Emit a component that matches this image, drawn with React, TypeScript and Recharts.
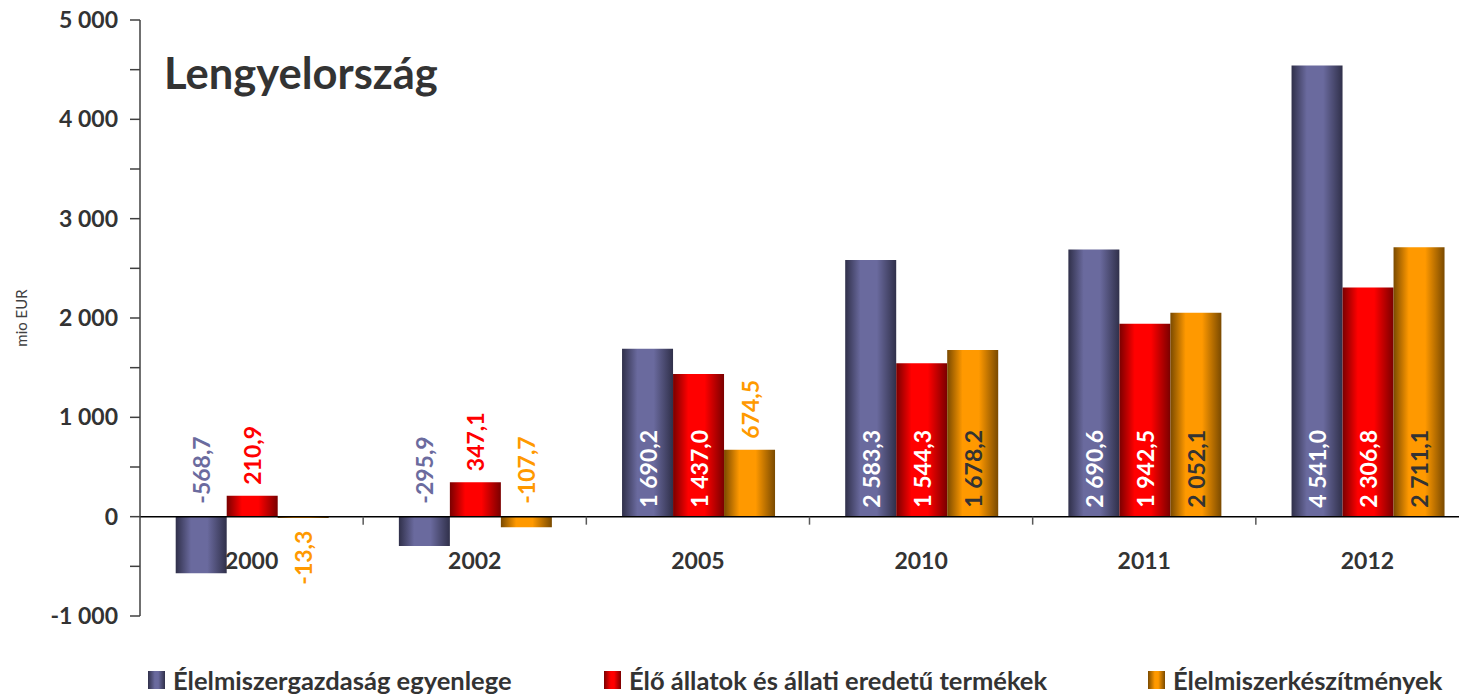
import React from 'react';
import { BarChart, Bar, XAxis, YAxis, ReferenceLine, LabelList } from 'recharts';

const categories = ['2000', '2002', '2005', '2010', '2011', '2012'];
const balanceValues = [-568.7, -295.9, 1690.2, 2583.3, 2690.6, 4541.0];
const livestockValues = [210.9, 347.1, 1437.0, 1544.3, 1942.5, 2306.8];
const foodValues = [-13.3, -107.7, 674.5, 1678.2, 2052.1, 2711.1];
const yTicks = [-1000, -500, 0, 500, 1000, 1500, 2000, 2500, 3000, 3500, 4000, 4500, 5000];

const seriesNames = [
  'Élelmiszergazdaság egyenlege',
  'Élő állatok és állati eredetű termékek',
  'Élelmiszerkészítmények',
];

const data = categories.map((c, i) => ({
  year: c,
  balance: balanceValues[i],
  livestock: livestockValues[i],
  food: foodValues[i],
}));

const Y_MIN = -1000;
const Y_MAX = 5000;
const CHART_W = 1480;
const CHART_H = 698;
const MARGIN = { top: 20, right: 1, left: 0, bottom: 52 };
const Y_AXIS_W = 140;
const X_AXIS_H = 30;
const PLOT_H = CHART_H - MARGIN.top - MARGIN.bottom - X_AXIS_H;
const PLOT_W = CHART_W - MARGIN.left - MARGIN.right - Y_AXIS_W;
const ZERO_Y = MARGIN.top + (PLOT_H * (Y_MAX - 0)) / (Y_MAX - Y_MIN);
const BAND = PLOT_W / categories.length;

const FONT = 'Lato, "Open Sans", sans-serif';
const TEXT = '#333333';

const series = [
  { key: 'balance', name: seriesNames[0], dark: '#30304a', light: '#6a6a9e', labelColor: '#6b6b9e', inside: '#ffffff', grad: 'gBlue' },
  { key: 'livestock', name: seriesNames[1], dark: '#7a0000', light: '#ff0000', labelColor: '#ff0000', inside: '#ffffff', grad: 'gRed' },
  { key: 'food', name: seriesNames[2], dark: '#7a4a00', light: '#ff9900', labelColor: '#ff9900', inside: '#333333', grad: 'gOrange' },
];

const fmt = (v: number) => {
  const neg = v < 0;
  const s = Math.abs(v).toFixed(1);
  const [int, dec] = s.split('.');
  const intS = int.replace(/\B(?=(\d{3})+(?!\d))/g, ' ');
  return (neg ? '-' : '') + intS + ',' + dec;
};

const fmtAxis = (v: number) => {
  if (v % 1000 !== 0) return '';
  const neg = v < 0;
  const s = String(Math.abs(v)).replace(/\B(?=(\d{3})+(?!\d))/g, ' ');
  return (neg ? '-' : '') + s;
};

const makeLabel = (s: typeof series[number]) => (props: any) => {
  const { x, y, width, height, value } = props;
  const v = Number(value);
  const cx = Number(x) + Number(width) / 2;
  const top = Math.min(Number(y), Number(y) + Number(height));
  const barLen = Math.abs(Number(height));
  let ax = cx;
  let ay = 0;
  let anchor: 'start' | 'end' = 'start';
  let color = s.labelColor;
  if (v > 0 && barLen > 100) {
    ay = ZERO_Y - 9;
    color = s.inside;
  } else if (v > 0) {
    ay = top - 11;
  } else if (Math.abs(v) < 50) {
    ay = ZERO_Y + 14;
    anchor = 'end';
  } else {
    ay = ZERO_Y - 13;
  }
  return (
    <text
      x={ax}
      y={ay}
      transform={`rotate(-90 ${ax} ${ay})`}
      textAnchor={anchor}
      dominantBaseline="central"
      fill={color}
      fontFamily={FONT}
      fontWeight={700}
      fontSize={23}
    >
      {fmt(v)}
    </text>
  );
};

const XTick = (props: any) => {
  const { x, payload } = props;
  const lx = Number(x) + BAND / 2;
  return (
    <g>
      <line x1={lx} x2={lx} y1={ZERO_Y} y2={ZERO_Y + 8} stroke="#595959" strokeWidth={1.5} />
      <text
        x={x}
        y={ZERO_Y + 43}
        textAnchor="middle"
        dominantBaseline="central"
        fill={TEXT}
        fontFamily={FONT}
        fontWeight={700}
        fontSize={23}
      >
        {payload.value}
      </text>
    </g>
  );
};

const legendLeft = [148, 604, 1148];

export default function App() {
  return (
    <div style={{ position: 'absolute', left: 0, top: 0, width: 1459, height: 698, overflow: 'hidden', background: '#fff' }}>
      <BarChart
        width={CHART_W}
        height={CHART_H}
        data={data}
        margin={MARGIN}
        barGap={0}
        barCategoryGap="16%"
      >
        <defs>
          {series.map((s) => (
            <linearGradient key={s.grad} id={s.grad} x1="0" y1="0" x2="1" y2="0">
              <stop offset="0%" stopColor={s.dark} />
              <stop offset="30%" stopColor={s.light} />
              <stop offset="62%" stopColor={s.light} />
              <stop offset="100%" stopColor={s.dark} />
            </linearGradient>
          ))}
        </defs>
        <XAxis
          dataKey="year"
          height={X_AXIS_H}
          axisLine={false}
          tickLine={false}
          tick={<XTick />}
          interval={0}
        />
        <YAxis
          width={Y_AXIS_W}
          domain={[Y_MIN, Y_MAX]}
          ticks={yTicks}
          interval={0}
          tickFormatter={fmtAxis}
          allowDataOverflow
          axisLine={{ stroke: '#404040', strokeWidth: 1.5 }}
          tickLine={{ stroke: '#404040', strokeWidth: 1.5 }}
          tickSize={10}
          tickMargin={12}
          tick={{ fill: TEXT, fontFamily: FONT, fontWeight: 700, fontSize: 23 }}
          label={{
            value: 'mio EUR',
            angle: -90,
            position: 'insideLeft',
            offset: 22,
            style: { fill: '#404040', fontFamily: FONT, fontSize: 15, textAnchor: 'middle' },
          }}
        />
        <ReferenceLine y={0} stroke="#000" strokeWidth={1.5} />
        {series.map((s) => (
          <Bar key={s.key} dataKey={s.key} name={s.name} fill={`url(#${s.grad})`} isAnimationActive={false}>
            <LabelList dataKey={s.key} content={makeLabel(s)} />
          </Bar>
        ))}
      </BarChart>
      <div
        style={{
          position: 'absolute',
          left: 164,
          top: 42,
          fontFamily: FONT,
          fontWeight: 700,
          fontSize: 43.5,
          color: TEXT,
          lineHeight: '60px',
          whiteSpace: 'nowrap',
        }}
      >
        Lengyelország
      </div>
      {series.map((s, i) => (
        <div
          key={s.key}
          style={{
            position: 'absolute',
            left: legendLeft[i],
            top: 667,
            display: 'flex',
            alignItems: 'center',
            whiteSpace: 'nowrap',
            fontFamily: FONT,
            fontWeight: 700,
            fontSize: 25.5,
            color: TEXT,
            lineHeight: '26px',
          }}
        >
          <span
            style={{
              display: 'inline-block',
              width: 17,
              height: 18,
              marginRight: 8,
              background: `linear-gradient(to right, ${s.dark}, ${s.light} 40%, ${s.light} 60%, ${s.dark})`,
            }}
          />
          {s.name}
        </div>
      ))}
    </div>
  );
}
